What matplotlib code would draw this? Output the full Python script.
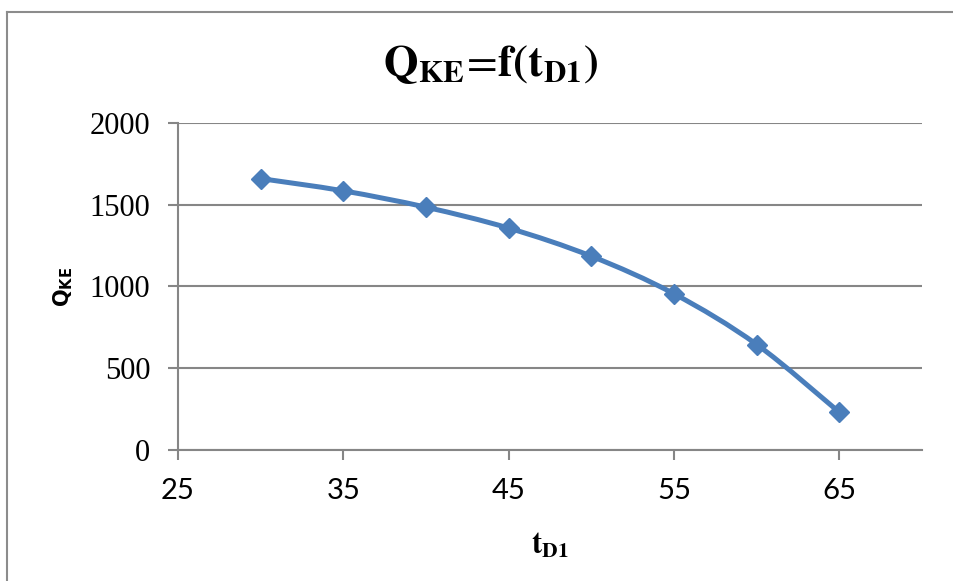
import matplotlib
matplotlib.use('Agg')
import matplotlib.pyplot as plt
from matplotlib.path import Path
from matplotlib.patches import PathPatch
from matplotlib.lines import Line2D
import numpy as np

# 数据
t_d1 = [30, 35, 40, 45, 50, 55, 60, 65]
q_ke = [1660, 1585, 1485, 1357, 1185, 955, 645, 230]
x_ticks = [25, 35, 45, 55, 65]
y_ticks = [0, 500, 1000, 1500, 2000]

LINE_C = '#4A7EBB'
GRID_C = '#868686'


def smooth_path(x, y):
    '''Excel 风格的平滑线 (Bezier)'''
    p = np.column_stack([x, y]).astype(float)
    pts = [p[0]]
    codes = [Path.MOVETO]
    n = len(p)
    for i in range(n - 1):
        p0 = p[i - 1] if i > 0 else p[i]
        p3 = p[i + 2] if i + 2 < n else p[i + 1]
        c1 = p[i] + (p[i + 1] - p0) / 6.0
        c2 = p[i + 1] - (p3 - p[i]) / 6.0
        pts += [c1, c2, p[i + 1]]
        codes += [Path.CURVE4] * 3
    return Path(pts, codes)


fig = plt.figure(figsize=(9.54, 5.81), dpi=100)
ax = fig.add_axes([0.1866, 0.2255, 0.78, 0.5628])

# 外边框 (只看得到上边和左边)
fx, fy = 7.5 / 954, 1 - 12 / 581
fig.lines.append(Line2D([fx, 1.0], [fy, fy], transform=fig.transFigure, color='#8c8c8c', lw=1.5))
fig.lines.append(Line2D([fx, fx], [0.0, fy], transform=fig.transFigure, color='#8c8c8c', lw=1.5))

ax.set_xlim(25, 70)
ax.set_ylim(0, 2000)
ax.set_xticks(x_ticks)
ax.set_yticks(y_ticks)
ax.yaxis.grid(True, color=GRID_C, lw=1.5)
ax.set_axisbelow(True)
for s in ['top', 'right']:
    ax.spines[s].set_visible(False)
for s in ['left', 'bottom']:
    ax.spines[s].set_color(GRID_C)
    ax.spines[s].set_linewidth(1.5)
ax.tick_params(axis='both', direction='out', color=GRID_C, width=1.5, length=7, pad=13)
ax.set_xticklabels([str(v) for v in x_ticks], family=['Liberation Sans Narrow', 'Lato'], fontsize=21)
ax.set_yticklabels([str(v) for v in y_ticks], family='Liberation Serif', fontsize=22)

ax.add_patch(PathPatch(smooth_path(t_d1, q_ke), fill=False, edgecolor=LINE_C,
                       lw=3.6, capstyle='round', joinstyle='round', zorder=3))
ax.plot(t_d1, q_ke, ls='none', marker='D', ms=10, color=LINE_C, zorder=4)

fig.text(491 / 954, 1 - 65 / 581, r'$\mathbf{Q_{KE}}\!=\!\mathbf{f(t_{D1})}$',
         ha='center', va='center', fontsize=32, math_fontfamily='stix')
fig.text(63 / 954, 1 - 287 / 581, r'$\mathbf{Q_{KE}}$', rotation=90, ha='center', va='center',
         fontsize=15, math_fontfamily='dejavusans')
fig.text(550 / 954, 1 - 545 / 581, r'$\mathbf{t_{D1}}$', ha='center', va='center',
         fontsize=22, math_fontfamily='stix')

plt.savefig('out.png', dpi=100)
